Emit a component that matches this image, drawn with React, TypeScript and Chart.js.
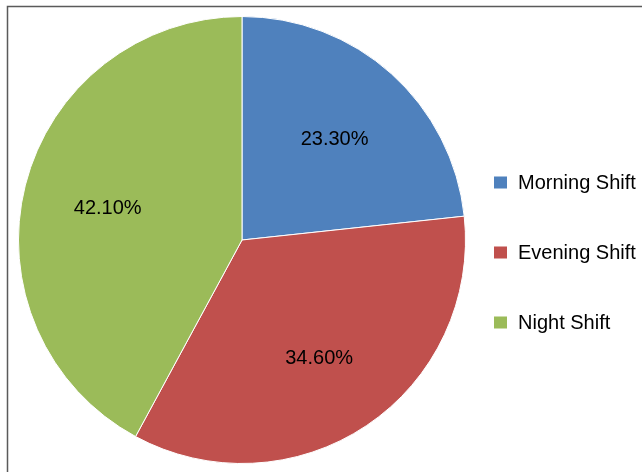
import React, { useEffect, useRef } from "react";
import { Chart, registerables } from "chart.js";

Chart.register(...registerables);

const categories = ["Morning Shift", "Evening Shift", "Night Shift"];
const shares = [23.3, 34.6, 42.1];
const colors = ["#4F81BD", "#C0504D", "#9BBB59"];

const FONT = "'Liberation Sans', Arial, sans-serif";

const framePlugin = {
  id: "frame",
  beforeDraw(chart: any) {
    const ctx = chart.ctx;
    ctx.save();
    ctx.fillStyle = "#ffffff";
    ctx.fillRect(0, 0, chart.width, chart.height);
    ctx.strokeStyle = "#5a5a5a";
    ctx.lineWidth = 1.5;
    ctx.beginPath();
    ctx.moveTo(7.5, chart.height);
    ctx.lineTo(7.5, 6.5);
    ctx.lineTo(chart.width, 6.5);
    ctx.stroke();
    ctx.restore();
  },
};

const labelPlugin = {
  id: "sliceLabels",
  afterDatasetsDraw(chart: any) {
    const ctx = chart.ctx;
    const meta = chart.getDatasetMeta(0);
    const values = chart.data.datasets[0].data as number[];
    ctx.save();
    ctx.font = `20px ${FONT}`;
    ctx.fillStyle = "#000000";
    ctx.textAlign = "center";
    ctx.textBaseline = "middle";
    meta.data.forEach((arc: any, i: number) => {
      const p = arc.getProps(["x", "y", "startAngle", "endAngle", "outerRadius"], true);
      const mid = (p.startAngle + p.endAngle) / 2;
      const r = p.outerRadius * 0.62;
      ctx.fillText(values[i].toFixed(2) + "%", p.x + Math.cos(mid) * r, p.y + Math.sin(mid) * r + 3);
    });
    ctx.restore();
  },
};

const legendPlugin = {
  id: "sideLegend",
  afterDraw(chart: any) {
    const ctx = chart.ctx;
    const labels = chart.data.labels as string[];
    const bg = chart.data.datasets[0].backgroundColor as string[];
    const x0 = chart.chartArea.right + 28;
    const yCenter = (chart.chartArea.top + chart.chartArea.bottom) / 2;
    const step = 70;
    const yStart = yCenter + 12.5 - ((labels.length - 1) * step) / 2;
    ctx.save();
    ctx.font = `20px ${FONT}`;
    ctx.textBaseline = "middle";
    ctx.textAlign = "left";
    labels.forEach((lab, i) => {
      const y = yStart + i * step;
      ctx.fillStyle = bg[i];
      ctx.fillRect(x0, y - 6, 13, 12);
      ctx.fillStyle = "#000000";
      ctx.fillText(lab, x0 + 24, y + 1);
    });
    ctx.restore();
  },
};

export default function App() {
  const ref = useRef<HTMLCanvasElement>(null);
  useEffect(() => {
    if (!ref.current) return;
    const chart = new Chart(ref.current, {
      type: "pie",
      data: {
        labels: categories,
        datasets: [
          {
            data: shares,
            backgroundColor: colors,
            borderColor: "#ffffff",
            borderWidth: 1,
          },
        ],
      },
      options: {
        animation: false,
        responsive: false,
        maintainAspectRatio: false,
        layout: { padding: { left: 18, top: 16, bottom: 8, right: 176 } },
        plugins: {
          legend: { display: false },
          tooltip: { enabled: false },
        },
      },
      plugins: [framePlugin, labelPlugin, legendPlugin],
    });
    return () => chart.destroy();
  }, []);
  return (
    <div style={{ position: "fixed", left: 0, top: 0, width: 642, height: 472 }}>
      <canvas ref={ref} width={642} height={472} style={{ display: "block" }} />
    </div>
  );
}
